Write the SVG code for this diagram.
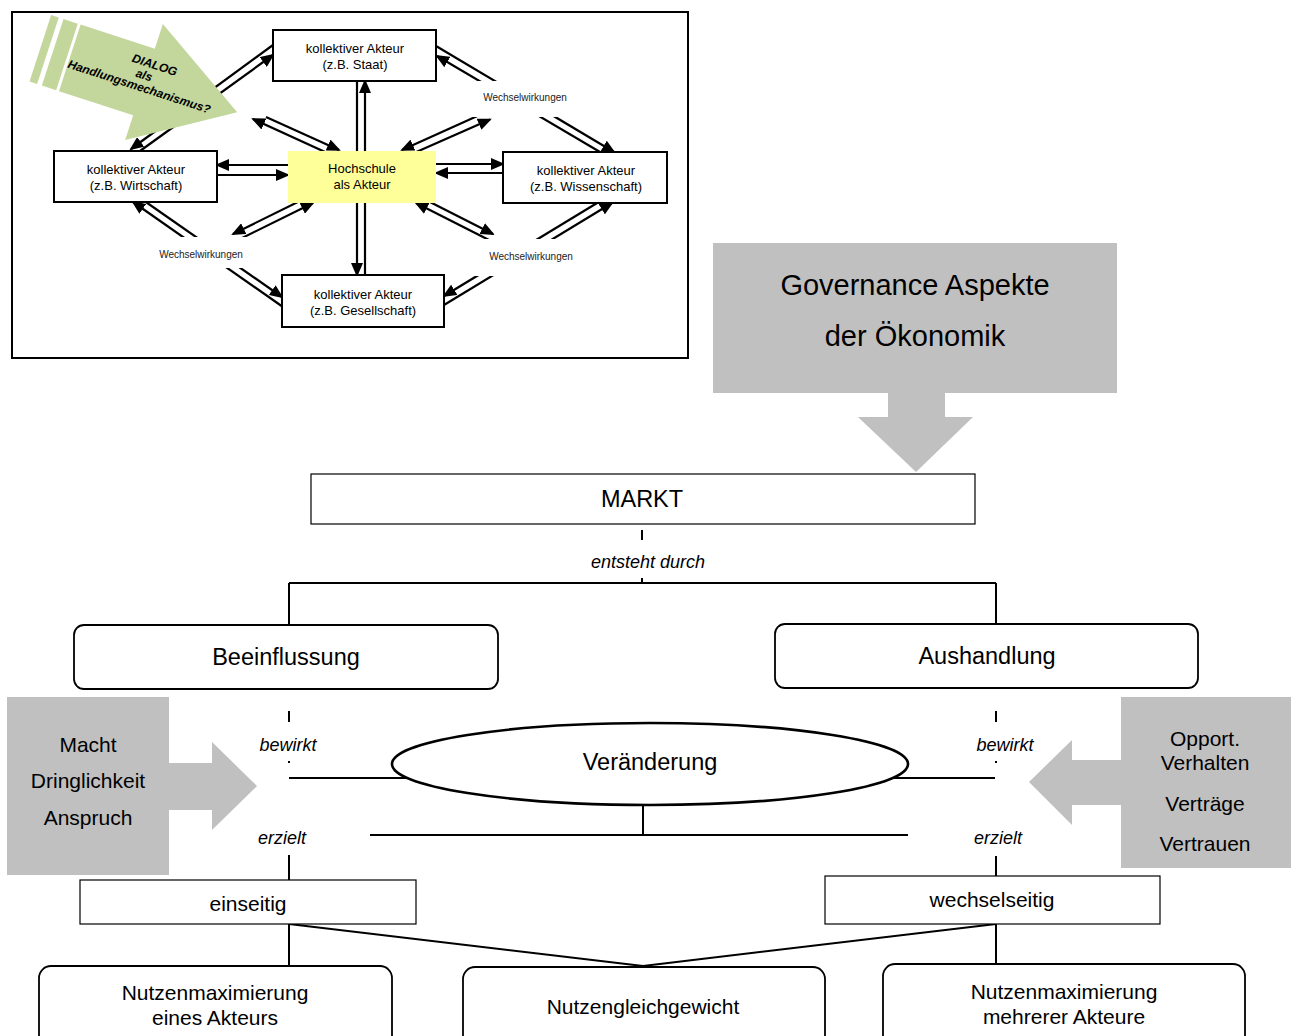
<svg xmlns="http://www.w3.org/2000/svg" width="1296" height="1036" viewBox="0 0 1296 1036">
<defs>
<marker id="ah" markerUnits="userSpaceOnUse" markerWidth="14" markerHeight="12" refX="12" refY="6" orient="auto"><path d="M0,0 L14,6 L0,12 z" fill="#000"/></marker>
<style>
text { font-family: "Liberation Sans", Arial, sans-serif; fill: #000; }
.s13 { font-size: 13px; text-anchor: middle; }
.s10 { font-size: 10px; text-anchor: middle; fill: #222; }
.dl { stroke: #000; stroke-width: 2.2; fill: none; marker-end: url(#ah); }
.ibox { fill: #fff; stroke: #000; stroke-width: 2; }
.m21 { font-size: 21px; text-anchor: middle; }
.m23 { font-size: 23.5px; text-anchor: middle; }
.it { font-size: 18px; font-style: italic; text-anchor: middle; }
.wl { stroke: #000; stroke-width: 2; fill: none; }
.gray { fill: #C0C0C0; }
.thin { fill: #fff; stroke: #000; stroke-width: 1.2; }
.rnd { fill: #fff; stroke: #000; stroke-width: 1.8; }
.gtx { font-size: 12px; font-weight: bold; font-style: italic; text-anchor: middle; }
</style>
</defs>
<rect width="1296" height="1036" fill="#fff"/>

<!-- actor network panel -->
<g id="panel">
<rect x="12" y="12" width="676" height="346" fill="#fff" stroke="#000" stroke-width="2"/>

<g id="panel-connectors">
  <!-- vertical pair Staat / Gesellschaft -->
  <line class="dl" x1="357" y1="81" x2="357" y2="275"/>
  <line class="dl" x1="365" y1="275" x2="365" y2="81"/>
  <!-- horizontal pairs -->
  <line class="dl" x1="288" y1="165" x2="217" y2="165"/>
  <line class="dl" x1="217" y1="175" x2="288" y2="175"/>
  <line class="dl" x1="436" y1="164" x2="503" y2="164"/>
  <line class="dl" x1="503" y1="173" x2="436" y2="173"/>
  <!-- Wirtschaft / Staat -->
  <line class="dl" x1="273" y1="45" x2="131" y2="149"/>
  <line class="dl" x1="140" y1="151" x2="273" y2="55"/>
  <!-- Staat / Wissenschaft -->
  <line class="dl" x1="436" y1="46" x2="614" y2="152"/>
  <line class="dl" x1="600" y1="152" x2="437" y2="56"/>
  <!-- Hochschule to the four interactions -->
  <line class="dl" x1="266" y1="117" x2="339" y2="150"/>
  <line class="dl" x1="336" y1="157" x2="253" y2="119"/>
  <line class="dl" x1="484" y1="113" x2="402" y2="150"/>
  <line class="dl" x1="405" y1="157" x2="490" y2="119.5"/>
  <line class="dl" x1="310" y1="196" x2="233" y2="234"/>
  <line class="dl" x1="236" y1="241" x2="313" y2="203"/>
  <line class="dl" x1="426" y1="200" x2="493" y2="234"/>
  <line class="dl" x1="489" y1="240" x2="416" y2="203"/>
  <!-- Wirtschaft / Gesellschaft -->
  <line class="dl" x1="143" y1="200" x2="282" y2="297"/>
  <line class="dl" x1="283" y1="307" x2="133" y2="202"/>
  <!-- Wissenschaft / Gesellschaft -->
  <line class="dl" x1="602" y1="200" x2="444" y2="296"/>
  <line class="dl" x1="444" y1="305" x2="612" y2="203"/>

  <!-- interaction labels -->
  <rect x="468" y="81" width="118" height="36" fill="#fff"/>
  <text class="s10" x="525" y="100.5">Wechselwirkungen</text>
  <rect x="150" y="237" width="105" height="31" fill="#fff"/>
  <text class="s10" x="201" y="257.5">Wechselwirkungen</text>
  <rect x="470" y="239" width="120" height="37" fill="#fff"/>
  <text class="s10" x="531" y="259.5">Wechselwirkungen</text>
</g>

<!-- dialogue arrow -->
<g id="dialog-arrow" transform="translate(144,82) rotate(18)">
  <rect x="-109" y="-35" width="8" height="70" fill="#C3D69B"/>
  <rect x="-96" y="-35" width="15" height="70" fill="#C3D69B"/>
  <polygon points="-78,-35 0,-35 0,-61 98,0 0,61 0,35 -78,35" fill="#C3D69B"/>
  <text class="gtx" x="5" y="-15.5">DIALOG</text>
  <text class="gtx" x="-2" y="-2.5">als</text>
  <text class="gtx" x="-3" y="10">Handlungsmechanismus?</text>
</g>

<g id="staat">
  <rect class="ibox" x="273" y="30" width="163" height="51"/>
  <text class="s13" x="355" y="52.5">kollektiver Akteur</text>
  <text class="s13" x="355" y="68.5">(z.B. Staat)</text>
</g>
<g id="wirtschaft">
  <rect class="ibox" x="54" y="151" width="163" height="51"/>
  <text class="s13" x="136" y="173.5">kollektiver Akteur</text>
  <text class="s13" x="136" y="189.5">(z.B. Wirtschaft)</text>
</g>
<g id="hochschule">
  <rect x="288" y="151" width="148" height="52" fill="#FFFF99"/>
  <text class="s13" x="362" y="172.5">Hochschule</text>
  <text class="s13" x="362" y="188.5">als Akteur</text>
</g>
<g id="wissenschaft">
  <rect class="ibox" x="503" y="152" width="164" height="51"/>
  <text class="s13" x="586" y="174.5">kollektiver Akteur</text>
  <text class="s13" x="586" y="190.5">(z.B. Wissenschaft)</text>
</g>
<g id="gesellschaft">
  <rect class="ibox" x="282" y="275" width="162" height="52"/>
  <text class="s13" x="363" y="298.5">kollektiver Akteur</text>
  <text class="s13" x="363" y="314.5">(z.B. Gesellschaft)</text>
</g>
</g>

<!-- market scheme connectors -->
<g id="connectors">
  <line class="wl" x1="642" y1="530" x2="642" y2="540"/>
  <line class="wl" x1="642" y1="578" x2="642" y2="583"/>
  <line class="wl" x1="289" y1="583" x2="996" y2="583"/>
  <line class="wl" x1="289" y1="583" x2="289" y2="625"/>
  <line class="wl" x1="996" y1="583" x2="996" y2="624"/>
  <text class="it" x="648" y="568">entsteht durch</text>

  <line class="wl" x1="289" y1="711" x2="289" y2="722"/>
  <line class="wl" x1="289" y1="761" x2="289" y2="763"/>
  <line class="wl" x1="289" y1="778" x2="412" y2="778"/>
  <text class="it" x="288" y="751">bewirkt</text>
  <line class="wl" x1="996" y1="711" x2="996" y2="722"/>
  <line class="wl" x1="996" y1="761" x2="996" y2="763"/>
  <line class="wl" x1="890" y1="778" x2="995" y2="778"/>
  <text class="it" x="1005" y="751">bewirkt</text>

  <line class="wl" x1="643" y1="805" x2="643" y2="835"/>
  <line class="wl" x1="370" y1="835" x2="908" y2="835"/>

  <text class="it" x="282" y="844">erzielt</text>
  <line class="wl" x1="289" y1="855" x2="289" y2="880"/>
  <text class="it" x="998" y="844">erzielt</text>
  <line class="wl" x1="996" y1="856" x2="996" y2="876"/>

  <line class="wl" x1="289" y1="924" x2="289" y2="966"/>
  <line class="wl" x1="289" y1="924" x2="643" y2="966"/>
  <line class="wl" x1="996" y1="924" x2="996" y2="964"/>
  <line class="wl" x1="996" y1="924" x2="643" y2="966"/>
</g>

<g id="governance">
  <rect class="gray" x="713" y="243" width="404" height="150"/>
  <polygon class="gray" points="888,393 945,393 945,417 973,417 916,472 858,417 888,417"/>
  <text x="915" y="295" font-size="29" text-anchor="middle">Governance Aspekte</text>
  <text x="915" y="346" font-size="29" text-anchor="middle">der Ökonomik</text>
</g>

<g id="markt">
  <rect class="thin" x="311" y="474" width="664" height="50"/>
  <text class="m23" x="642" y="506.5">MARKT</text>
</g>

<g id="beeinflussung">
  <rect class="rnd" x="74" y="625" width="424" height="64" rx="10"/>
  <text class="m23" x="286" y="665">Beeinflussung</text>
</g>

<g id="aushandlung">
  <rect class="rnd" x="775" y="624" width="423" height="64" rx="10"/>
  <text class="m23" x="987" y="664">Aushandlung</text>
</g>

<g id="veraenderung">
  <ellipse cx="650" cy="764" rx="258" ry="41" fill="#fff" stroke="#000" stroke-width="2.6"/>
  <text class="m23" x="650" y="770">Veränderung</text>
</g>

<g id="macht">
  <rect class="gray" x="7" y="697" width="162" height="178"/>
  <polygon class="gray" points="168,763 212,763 212,742 257,786 212,830 212,810 168,810"/>
  <text class="m21" x="88" y="751.5">Macht</text>
  <text class="m21" x="88" y="787.5">Dringlichkeit</text>
  <text class="m21" x="88" y="824.5">Anspruch</text>
</g>

<g id="opport">
  <rect class="gray" x="1121" y="697" width="170" height="171"/>
  <polygon class="gray" points="1122,760 1072,760 1072,740 1029,782 1072,825 1072,805 1122,805"/>
  <text class="m21" x="1205" y="745.5">Opport.</text>
  <text class="m21" x="1205" y="769.5">Verhalten</text>
  <text class="m21" x="1205" y="810.5">Verträge</text>
  <text class="m21" x="1205" y="850.5">Vertrauen</text>
</g>

<g id="einseitig">
  <rect class="thin" x="80" y="880" width="336" height="44"/>
  <text class="m21" x="248" y="910.5">einseitig</text>
</g>

<g id="wechselseitig">
  <rect class="thin" x="825" y="876" width="335" height="48"/>
  <text class="m21" x="992" y="906.5">wechselseitig</text>
</g>

<g id="nutzenmax-einer">
  <rect class="rnd" x="39" y="966" width="353" height="90" rx="12"/>
  <text class="m21" x="215" y="999.5">Nutzenmaximierung</text>
  <text class="m21" x="215" y="1024.5">eines Akteurs</text>
</g>

<g id="nutzengleichgewicht">
  <rect class="rnd" x="463" y="967" width="362" height="90" rx="12"/>
  <text class="m21" x="643" y="1013.5">Nutzengleichgewicht</text>
</g>

<g id="nutzenmax-mehrere">
  <rect class="rnd" x="883" y="964" width="362" height="90" rx="12"/>
  <text class="m21" x="1064" y="998.5">Nutzenmaximierung</text>
  <text class="m21" x="1064" y="1023.5">mehrerer Akteure</text>
</g>
</svg>
